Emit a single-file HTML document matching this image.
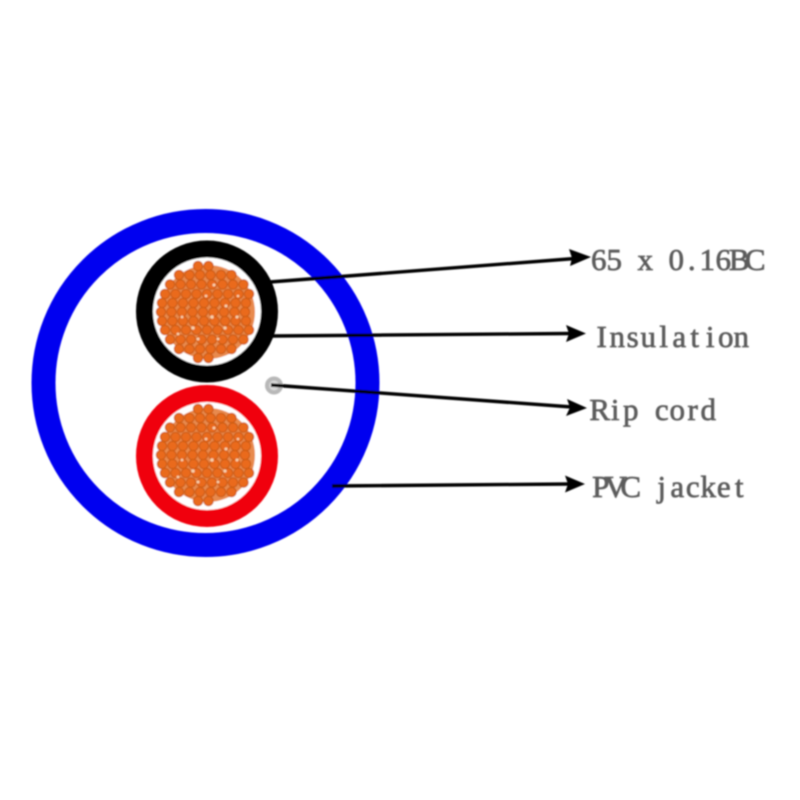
<!DOCTYPE html>
<html>
<head>
<meta charset="utf-8">
<style>
html,body{margin:0;padding:0;background:#fff;width:800px;height:800px;overflow:hidden}
svg{display:block}
text{font-family:"Liberation Serif",serif;font-size:31px;fill:#5c5c5c;text-anchor:middle;stroke:#5c5c5c;stroke-width:.7}
</style>
</head>
<body>
<svg width="800" height="800" viewBox="0 0 800 800" xmlns="http://www.w3.org/2000/svg">
<defs>
<filter id="b" x="-5%" y="-5%" width="110%" height="110%"><feGaussianBlur stdDeviation="0.9"/></filter>
<filter id="t" x="-5%" y="-20%" width="110%" height="140%"><feGaussianBlur stdDeviation="0.8"/></filter>
<g id="rows">
<line x1="-10" y1="-46" x2="11" y2="-46"/>
<line x1="-29" y1="-37" x2="30" y2="-37"/>
<line x1="-38" y1="-27.5" x2="39" y2="-27.5"/>
<line x1="-43" y1="-18" x2="44" y2="-18"/>
<line x1="-46" y1="-9" x2="47" y2="-9"/>
<line x1="-47" y1="0" x2="47" y2="0"/>
<line x1="-46" y1="9" x2="47" y2="9"/>
<line x1="-43" y1="18" x2="44" y2="18"/>
<line x1="-38" y1="27.5" x2="39" y2="27.5"/>
<line x1="-29" y1="37" x2="30" y2="37"/>
<line x1="-10" y1="46" x2="11" y2="46"/>
</g>
<g id="bundle">
<circle r="47" fill="#e88a4e"/>
<use href="#rows" stroke="#cf5d14" stroke-width="10.5" stroke-linecap="round" stroke-dasharray="0 10.5" fill="none"/>
<use href="#rows" stroke="#ea6a1a" stroke-width="8" stroke-linecap="round" stroke-dasharray="0 10.5" fill="none"/>
<g fill="#f8d0aa">
<circle cx="6" cy="-27" r="1.5"/><circle cx="-15" cy="16" r="1.7"/><circle cx="-10" cy="27" r="1.5"/>
<circle cx="18" cy="-6" r="1.5"/><circle cx="4" cy="5" r="1.7"/><circle cx="29" cy="5" r="1.5"/>
<circle cx="-2" cy="-16" r="1.4"/><circle cx="17" cy="16" r="1.6"/><circle cx="-26" cy="5" r="1.4"/>
<circle cx="10" cy="27" r="1.4"/><circle cx="30" cy="-16" r="1.3"/><circle cx="-30" cy="22" r="1.4"/>
</g>
</g>
</defs>

<g filter="url(#b)">
<circle cx="205.5" cy="383" r="162" fill="none" stroke="#0000f0" stroke-width="24"/>
<circle cx="207" cy="311.5" r="62.5" fill="#fff" stroke="#000" stroke-width="17"/>
<use href="#bundle" x="208" y="312"/>
<circle cx="207" cy="456" r="62.5" fill="#fff" stroke="#f00010" stroke-width="17"/>
<use href="#bundle" x="208" y="455"/>
<circle cx="274" cy="385.5" r="9" fill="#b8b8b8"/>
<circle cx="274" cy="385.5" r="5" fill="#d8d8d8"/>
<g stroke="#000" stroke-width="3.4" fill="none">
<line x1="270" y1="282" x2="575" y2="258.5"/>
<line x1="272" y1="336" x2="570" y2="333.5"/>
<line x1="271" y1="385" x2="572" y2="407"/>
<line x1="332" y1="486" x2="570" y2="484"/>
</g>
<g fill="#000">
<polygon points="591,257 569,249 572,258 570,266"/>
<polygon points="586,333.5 566,325 569,333.5 566,342"/>
<polygon points="587,408 567,399 570,407.5 566,416"/>
<polygon points="585,484 565,475.5 568,484 565,492.5"/>
</g>
</g>

<g filter="url(#t)">
<text y="270" x="598.7 614.2 629.7 645.2 660.7 676.2 691.7 707.2 723.2 739.2 755.2">65 x 0.16BC</text>
<text y="347" x="601.7 617.2 632.7 648.2 663.7 679.2 694.7 710.2 725.7 741.2">Insulation</text>
<text y="420" x="599.7 615.2 630.7 646.2 661.7 677.2 692.7 708.2">Rip cord</text>
<text y="497" x="600.7 615.7 630.7 646.2 661.7 677.2 692.7 708.2 723.7 739.2">PVC jacket</text>
</g>
</svg>
</body>
</html>
